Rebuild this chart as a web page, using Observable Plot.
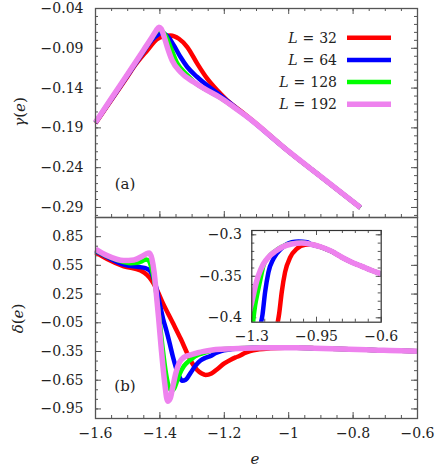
<!DOCTYPE html>
<html><head><meta charset="utf-8">
<script src="https://cdn.jsdelivr.net/npm/d3@7"></script>
<script src="https://cdn.jsdelivr.net/npm/@observablehq/plot@0.6"></script>
<style>
body{margin:0;background:#fff;}
#fig{position:relative;width:436px;height:466px;overflow:hidden;background:#fff;}
#fig svg{position:absolute;}
</style></head><body><div id="fig"></div>
<script>
// ---------- data ----------
const sizes = ["32", "64", "128", "192"];
const colors = ["#ff0000", "#0000ff", "#00ff00", "#ee82ee"];
const widths = [4.5, 4.5, 4.5, 5.5];

// gamma(e), top panel
const gamma32 = [[-1.6,-0.184],[-1.55,-0.1545],[-1.5,-0.125],[-1.481,-0.1135],[-1.439,-0.0925],[-1.409,-0.0785],[-1.388,-0.0748],[-1.367,-0.0738],[-1.341,-0.078],[-1.315,-0.0884],[-1.284,-0.1093],[-1.253,-0.1282],[-1.222,-0.1429],[-1.191,-0.1555],[-1.15,-0.1685],[-1.119,-0.1785],[-1.0,-0.2196],[-0.9,-0.2513],[-0.777,-0.2902]];
const gamma64 = [[-1.6,-0.1835],[-1.55,-0.1538],[-1.5,-0.124],[-1.45,-0.094],[-1.425,-0.0795],[-1.409,-0.0738],[-1.398,-0.0712],[-1.387,-0.0717],[-1.377,-0.0745],[-1.357,-0.0862],[-1.336,-0.101],[-1.315,-0.1135],[-1.284,-0.1261],[-1.253,-0.1366],[-1.212,-0.1492],[-1.17,-0.1628],[-1.129,-0.176],[-1.0,-0.2196],[-0.9,-0.2513],[-0.777,-0.2902]];
const gamma128 = [[-1.6,-0.183],[-1.55,-0.1528],[-1.5,-0.1226],[-1.45,-0.0924],[-1.425,-0.0772],[-1.413,-0.07],[-1.406,-0.0667],[-1.398,-0.0672],[-1.383,-0.0736],[-1.367,-0.0884],[-1.346,-0.109],[-1.315,-0.1235],[-1.295,-0.1318],[-1.253,-0.1429],[-1.212,-0.1521],[-1.17,-0.164],[-1.129,-0.176],[-1.0,-0.2196],[-0.9,-0.2513],[-0.777,-0.2902]];
const gamma192 = [[-1.6,-0.183],[-1.55,-0.1525],[-1.5,-0.1222],[-1.45,-0.0918],[-1.425,-0.0765],[-1.412,-0.068],[-1.403,-0.0635],[-1.396,-0.0655],[-1.388,-0.074],[-1.377,-0.0884],[-1.362,-0.1051],[-1.336,-0.1198],[-1.295,-0.1324],[-1.253,-0.1429],[-1.212,-0.1521],[-1.17,-0.164],[-1.129,-0.176],[-1.0,-0.2196],[-0.9,-0.2513],[-0.777,-0.2902]];

// delta(e), bottom panel and inset
const delta32 = [[-1.6,0.686],[-1.564,0.617],[-1.512,0.54],[-1.46,0.495],[-1.44,0.45],[-1.425,0.39],[-1.413,0.32],[-1.39,0.15],[-1.36,-0.05],[-1.335,-0.22],[-1.315,-0.37],[-1.3,-0.47],[-1.285,-0.54],[-1.27,-0.58],[-1.258,-0.595],[-1.24,-0.58],[-1.222,-0.535],[-1.2,-0.475],[-1.18,-0.435],[-1.165,-0.412],[-1.152,-0.395],[-1.138,-0.369],[-1.12,-0.345],[-1.092,-0.327],[-1.057,-0.317],[-1.011,-0.312],[-0.976,-0.3117],[-0.921,-0.315],[-0.867,-0.32],[-0.813,-0.327],[-0.759,-0.333],[-0.705,-0.338],[-0.651,-0.343],[-0.6,-0.347]];
const delta64 = [[-1.6,0.70],[-1.564,0.637],[-1.512,0.558],[-1.47,0.535],[-1.445,0.522],[-1.43,0.49],[-1.419,0.41],[-1.41,0.3],[-1.4,0.14],[-1.39,-0.01],[-1.38,-0.13],[-1.37,-0.26],[-1.36,-0.40],[-1.35,-0.52],[-1.34,-0.61],[-1.331,-0.655],[-1.32,-0.645],[-1.305,-0.575],[-1.29,-0.5],[-1.274,-0.445],[-1.258,-0.415],[-1.242,-0.396],[-1.228,-0.369],[-1.21,-0.345],[-1.183,-0.329],[-1.138,-0.316],[-1.084,-0.309],[-1.047,-0.308],[-1.0,-0.309],[-0.976,-0.3117],[-0.921,-0.315],[-0.867,-0.32],[-0.813,-0.327],[-0.759,-0.333],[-0.705,-0.338],[-0.651,-0.343],[-0.6,-0.347]];
const delta128 = [[-1.6,0.71],[-1.564,0.645],[-1.512,0.585],[-1.49,0.572],[-1.471,0.576],[-1.455,0.595],[-1.443,0.612],[-1.435,0.6],[-1.426,0.52],[-1.413,0.3],[-1.402,0.0],[-1.392,-0.3],[-1.381,-0.58],[-1.372,-0.72],[-1.363,-0.758],[-1.356,-0.74],[-1.348,-0.67],[-1.338,-0.58],[-1.325,-0.5],[-1.31,-0.45],[-1.3,-0.425],[-1.291,-0.401],[-1.282,-0.385],[-1.268,-0.369],[-1.25,-0.35],[-1.237,-0.337],[-1.21,-0.327],[-1.173,-0.3195],[-1.138,-0.3145],[-1.084,-0.3105],[-1.03,-0.3095],[-0.976,-0.3117],[-0.921,-0.315],[-0.867,-0.32],[-0.813,-0.327],[-0.759,-0.333],[-0.705,-0.338],[-0.651,-0.343],[-0.6,-0.347]];
const delta192 = [[-1.6,0.72],[-1.564,0.652],[-1.512,0.60],[-1.481,0.607],[-1.455,0.645],[-1.442,0.672],[-1.433,0.68],[-1.425,0.62],[-1.418,0.48],[-1.413,0.32],[-1.404,0.0],[-1.395,-0.35],[-1.385,-0.68],[-1.376,-0.87],[-1.368,-0.84],[-1.36,-0.72],[-1.35,-0.57],[-1.34,-0.47],[-1.325,-0.41],[-1.31,-0.39],[-1.3,-0.381],[-1.282,-0.363],[-1.264,-0.349],[-1.237,-0.335],[-1.21,-0.327],[-1.173,-0.32],[-1.138,-0.315],[-1.084,-0.311],[-1.03,-0.31],[-0.976,-0.3117],[-0.921,-0.315],[-0.867,-0.32],[-0.813,-0.327],[-0.759,-0.333],[-0.705,-0.338],[-0.651,-0.343],[-0.6,-0.347]];

// tick labels
const xTicks = [-1.6, -1.4, -1.2, -1, -0.8, -0.6];
const gammaTicks = [-0.04, -0.09, -0.14, -0.19, -0.24, -0.29];
const deltaTicks = [0.85, 0.55, 0.25, -0.05, -0.35, -0.65, -0.95];
const insetXTicks = [-1.3, -0.95, -0.6];
const insetYTicks = [-0.3, -0.35, -0.4];

// ---------- helpers ----------
const FONT = "'DejaVu Serif', 'Liberation Serif', serif";
const INK = "#222";
const FRAME = "#555";
const fmt = d => String(d).replace("-", "\u2212");
const seq = (a, b, s) => d3.range(Math.round((b - a) / s) + 1).map(i => +(a + i * s).toFixed(4));
const gammaSeries = [gamma32, gamma64, gamma128, gamma192];
const deltaSeries = [delta32, delta64, delta128, delta192];

function ticks(xs, ys, len, H, W, sides) {
  const o = {stroke: FRAME, strokeWidth: 1};
  const m = [];
  if (sides.includes("b")) m.push(Plot.tickX(xs, {...o, x: d => d, insetTop: H - len}));
  if (sides.includes("t")) m.push(Plot.tickX(xs, {...o, x: d => d, insetBottom: H - len}));
  if (sides.includes("l")) m.push(Plot.tickY(ys, {...o, y: d => d, insetRight: W - len}));
  if (sides.includes("r")) m.push(Plot.tickY(ys, {...o, y: d => d, insetLeft: W - len}));
  return m;
}
function lines(series, clip) {
  return series.map((s, i) => Plot.line(s, {
    x: d => d[0], y: d => d[1], stroke: colors[i], strokeWidth: widths[i],
    curve: "monotone-x", strokeLinecap: "butt", strokeLinejoin: "round", clip
  }));
}
const style = {background: "transparent", overflow: "visible", fontFamily: FONT, fontSize: "14px", color: INK};
const fig = document.getElementById("fig");

// ---------- top panel ----------
{
  const W = 436, H = 218, mL = 95, mR = 19, mT = 8, mB = 1;
  const fw = W - mL - mR, fh = H - mT - mB;
  const xMinor = seq(-1.55, -0.65, 0.05);
  const yMinor = seq(-0.30, -0.05, 0.01);
  const svg = Plot.plot({
    width: W, height: H, marginLeft: mL, marginRight: mR, marginTop: mT, marginBottom: mB,
    x: {domain: [-1.6, -0.6], axis: null},
    y: {domain: [-0.3026, -0.04]},
    style,
    marks: [
      ...ticks(xMinor, yMinor, 3, fh, fw, "btlr"),
      ...ticks(xTicks, gammaTicks, 6, fh, fw, "btlr"),
      Plot.axisY({anchor: "left", ticks: gammaTicks, tickSize: 0, tickPadding: 12, tickFormat: fmt, label: null}),
      ...lines(gammaSeries, false),
      Plot.frame({stroke: FRAME, strokeWidth: 1.3})
    ]
  });
  svg.style.left = "0px"; svg.style.top = "0px";
  fig.appendChild(svg);
  const s = d3.select(svg);
  // legend
  sizes.forEach((L, i) => {
    const y = 37.7 + i * 22.2;
    const t = s.append("text").attr("x", 337).attr("y", y + 5).attr("text-anchor", "end")
      .attr("font-family", FONT).attr("font-size", 14).attr("fill", INK);
    t.append("tspan").attr("font-style", "italic").text("L");
    t.append("tspan").attr("dx", 5).text("=");
    t.append("tspan").attr("dx", 5).text(L);
    s.append("line").attr("x1", 347).attr("x2", 391).attr("y1", y).attr("y2", y)
      .attr("stroke", colors[i]).attr("stroke-width", widths[i]);
  });
  s.append("text").attr("x", 125).attr("y", 183.5).attr("dy", "0.35em").attr("text-anchor", "middle")
    .attr("font-family", FONT).attr("font-size", 15).attr("fill", INK).text("(a)");
  const g = s.append("text").attr("transform", "translate(19.5,112) rotate(-90)").attr("dy", "0.35em")
    .attr("text-anchor", "middle").attr("font-family", FONT).attr("font-size", 15).attr("fill", INK);
  g.append("tspan").attr("font-style", "italic").text("\u03b3");
  g.append("tspan").text("(");
  g.append("tspan").attr("font-style", "italic").text("e");
  g.append("tspan").text(")");
}

// ---------- bottom panel ----------
{
  const W = 436, H = 254, mL = 95, mR = 19, mT = 5, mB = 48;
  const fw = W - mL - mR, fh = H - mT - mB;
  const xMinor = seq(-1.55, -0.65, 0.05);
  const yMinor = seq(-0.95, 0.95, 0.1);
  const svg = Plot.plot({
    width: W, height: H, marginLeft: mL, marginRight: mR, marginTop: mT, marginBottom: mB,
    x: {domain: [-1.6, -0.6]},
    y: {domain: [-1.05, 1.05]},
    style,
    marks: [
      ...ticks(xMinor, yMinor, 3, fh, fw, "blr"),
      ...ticks(xTicks, deltaTicks, 6, fh, fw, "blr"),
      Plot.axisY({anchor: "left", ticks: deltaTicks, tickSize: 0, tickPadding: 12, tickFormat: fmt, label: null}),
      Plot.axisX({anchor: "bottom", ticks: xTicks, tickSize: 0, tickPadding: 10, tickFormat: fmt, label: null}),
      ...lines(deltaSeries, false),
      Plot.frame({stroke: FRAME, strokeWidth: 1.3})
    ]
  });
  svg.style.left = "0px"; svg.style.top = "212px";
  fig.appendChild(svg);
  const s = d3.select(svg);
  s.append("text").attr("x", 125).attr("y", 386 - 212).attr("dy", "0.35em").attr("text-anchor", "middle")
    .attr("font-family", FONT).attr("font-size", 15).attr("fill", INK).text("(b)");
  const g = s.append("text").attr("transform", `translate(17.5,${318.5 - 212}) rotate(-90)`).attr("dy", "0.35em")
    .attr("text-anchor", "middle").attr("font-family", FONT).attr("font-size", 15).attr("fill", INK);
  g.append("tspan").attr("font-style", "italic").text("\u03b4");
  g.append("tspan").text("(");
  g.append("tspan").attr("font-style", "italic").text("e");
  g.append("tspan").text(")");
  s.append("text").attr("x", 255).attr("y", 459 - 212).attr("dy", "0.3em").attr("text-anchor", "middle")
    .attr("font-family", FONT).attr("font-size", 15).attr("font-style", "italic").attr("fill", INK).text("e");
}

// ---------- inset ----------
{
  const W = 190, H = 125, mL = 50.3, mR = 10.3, mT = 5, mB = 28.3;
  const fw = W - mL - mR, fh = H - mT - mB;
  const xMinor = seq(-1.23, -0.67, 0.07);
  const yMinor = seq(-0.40, -0.30, 0.01);
  const svg = Plot.plot({
    width: W, height: H, marginLeft: mL, marginRight: mR, marginTop: mT, marginBottom: mB,
    x: {domain: [-1.3, -0.6]},
    y: {domain: [-0.4053, -0.2948]},
    style,
    marks: [
      Plot.frame({fill: "white"}),
      ...ticks(xMinor, yMinor, 3, fh, fw, "btlr"),
      ...ticks(insetXTicks, insetYTicks, 5, fh, fw, "btlr"),
      Plot.axisY({anchor: "left", ticks: insetYTicks, tickSize: 0, tickPadding: 10, tickFormat: fmt, label: null}),
      Plot.axisX({anchor: "bottom", ticks: insetXTicks, tickSize: 0, tickPadding: 9, tickFormat: fmt, label: null}),
      ...lines(deltaSeries, true),
      Plot.frame({stroke: "#333", strokeWidth: 1.2})
    ]
  });
  svg.style.left = "201px"; svg.style.top = "225px";
  fig.appendChild(svg);
}
</script></body></html>
